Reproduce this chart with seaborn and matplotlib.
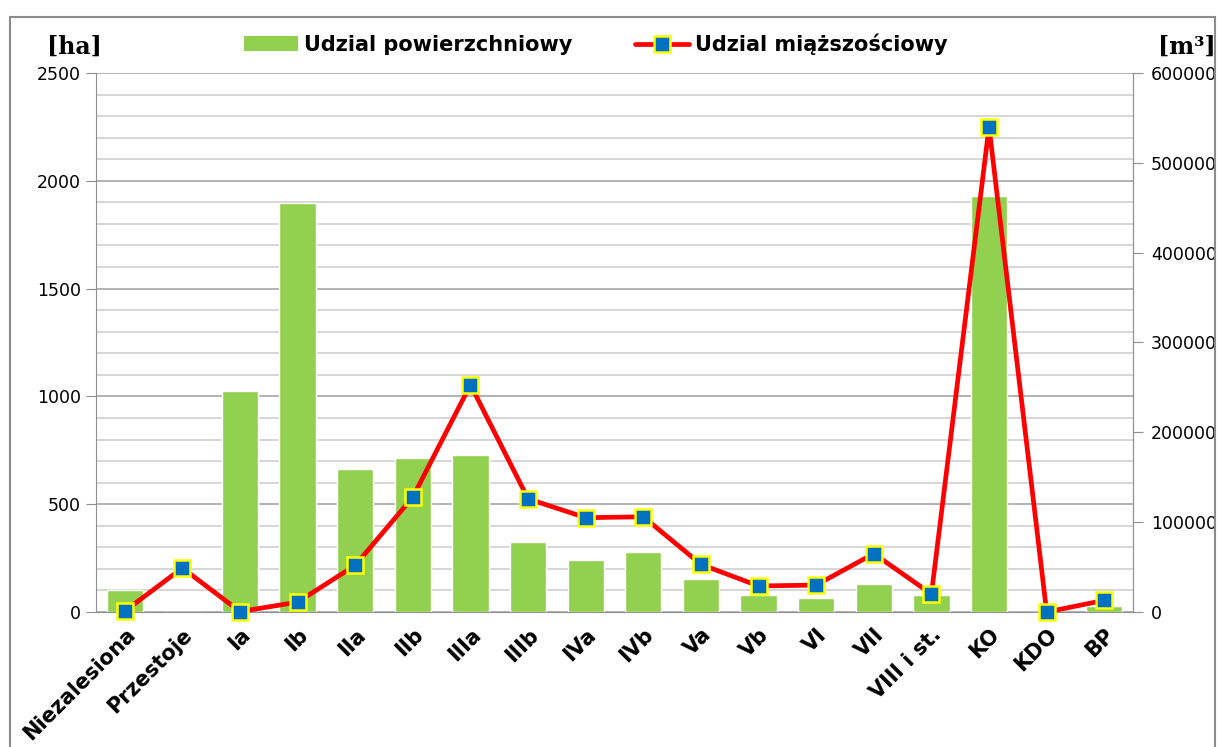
import numpy as np
import pandas as pd
import seaborn as sns
import matplotlib.pyplot as plt
from matplotlib.lines import Line2D
from matplotlib.patches import Patch, Rectangle
from matplotlib.ticker import MultipleLocator

# Dane
kategorie = ['Niezalesiona', 'Przestoje', 'Ia', 'Ib', 'IIa', 'IIb', 'IIIa', 'IIIb', 'IVa',
             'IVb', 'Va', 'Vb', 'VI', 'VII', 'VIII i st.', 'KO', 'KDO', 'BP']
powierzchnia = [100, 0, 1025, 1895, 663, 714, 728, 325, 241,
                278, 153, 79, 65, 130, 79, 1930, 0, 28]
miazszosc = [1000, 49000, 500, 11000, 52000, 128000, 253000, 126000, 105000,
             106000, 53000, 29000, 30000, 65000, 20000, 540000, 0, 13000]

df = pd.DataFrame({'klasa': kategorie, 'ha': powierzchnia, 'm3': miazszosc})

sns.set_style('white')
# szersza czcionka - oryginal wyglada na rozciagniety w poziomie
plt.rcParams['font.family'] = ['DejaVu Sans']
plt.rcParams['text.color'] = 'black'
plt.rcParams['xtick.labelcolor'] = 'black'
plt.rcParams['ytick.labelcolor'] = 'black'

fig = plt.figure(figsize=(12.21, 7.47), dpi=100)
ax = fig.add_axes([0.0786, 0.1807, 0.8494, 0.7216])

# Slupki - udzial powierzchniowy
sns.barplot(data=df, x='klasa', y='ha', color='#92D050', width=0.63, saturation=1, ax=ax, zorder=2)
ax.set_ylim(0, 2500)
ax.set_xlim(-0.5, len(kategorie) - 0.5)
ax.yaxis.set_major_locator(MultipleLocator(500))
ax.yaxis.set_minor_locator(MultipleLocator(100))
ax.grid(which='major', axis='y', color='#a6a6a6', lw=1.2, zorder=0)
ax.grid(which='minor', axis='y', color='#d0d0d0', lw=1.2, zorder=0)
ax.set_axisbelow(True)
ax.set_xlabel('')
ax.set_ylabel('')
ax.spines['top'].set_visible(False)
for s in ['left', 'bottom', 'right']:
    ax.spines[s].set_color('#909090')
ax.tick_params(axis='y', which='major', left=True, length=7, color='#909090',
               labelsize=12.5, labelcolor='black', pad=4)
ax.tick_params(axis='y', which='minor', left=False, length=0)
ax.tick_params(axis='x', length=0, pad=9, labelcolor='black')
ax.set_xticks(range(len(kategorie)))
ax.set_xticklabels(kategorie, rotation=45, ha='right', rotation_mode='anchor',
                   fontsize=15, fontweight='bold', color='black')

# Linia - udzial miazszosciowy
ax2 = ax.twinx()
ax2.plot(np.arange(len(kategorie)), df['m3'], color='#FF0000', lw=3.4, marker='s',
         markersize=11.5, markerfacecolor='#0070C0', markeredgecolor='#FFFF00',
         markeredgewidth=1.8, zorder=5, clip_on=False)
ax2.set_ylim(0, 600000)
ax2.yaxis.set_major_locator(MultipleLocator(100000))
ax2.tick_params(axis='y', right=True, length=7, color='#909090', labelsize=12.5,
                labelcolor='black', pad=6)
for s in ['top', 'left', 'bottom']:
    ax2.spines[s].set_visible(False)
ax2.spines['right'].set_color('#909090')
ax2.grid(False)

# Jednostki
fig.text(0.061, 0.938, '[ha]', family='DejaVu Serif', fontweight='bold', fontsize=17,
         ha='center', va='center', color='black')
fig.text(0.972, 0.938, '[m³]', family='DejaVu Serif', fontweight='bold', fontsize=17,
         ha='center', va='center', color='black')

# Legenda
uchwyty = [Patch(facecolor='#92D050', edgecolor='none'),
           Line2D([], [], color='#FF0000', lw=3.4, marker='s', markersize=11.5,
                  markerfacecolor='#0070C0', markeredgecolor='#FFFF00', markeredgewidth=1.8)]
fig.legend(uchwyty, ['Udzial powierzchniowy', 'Udzial miąższościowy'], loc='center',
           bbox_to_anchor=(0.488, 0.941), ncol=2, frameon=False, handlelength=2.6,
           handletextpad=0.3, columnspacing=3.0, labelcolor='black',
           prop={'weight': 'bold', 'size': 15})

# Ramka
fig.patches.append(Rectangle((10 / 1221, -0.01), 1205 / 1221, 1 - 17 / 747 + 0.01,
                             transform=fig.transFigure, fill=False, edgecolor='#8c8c8c',
                             lw=1.5))

fig.savefig('out.png', dpi=100)
